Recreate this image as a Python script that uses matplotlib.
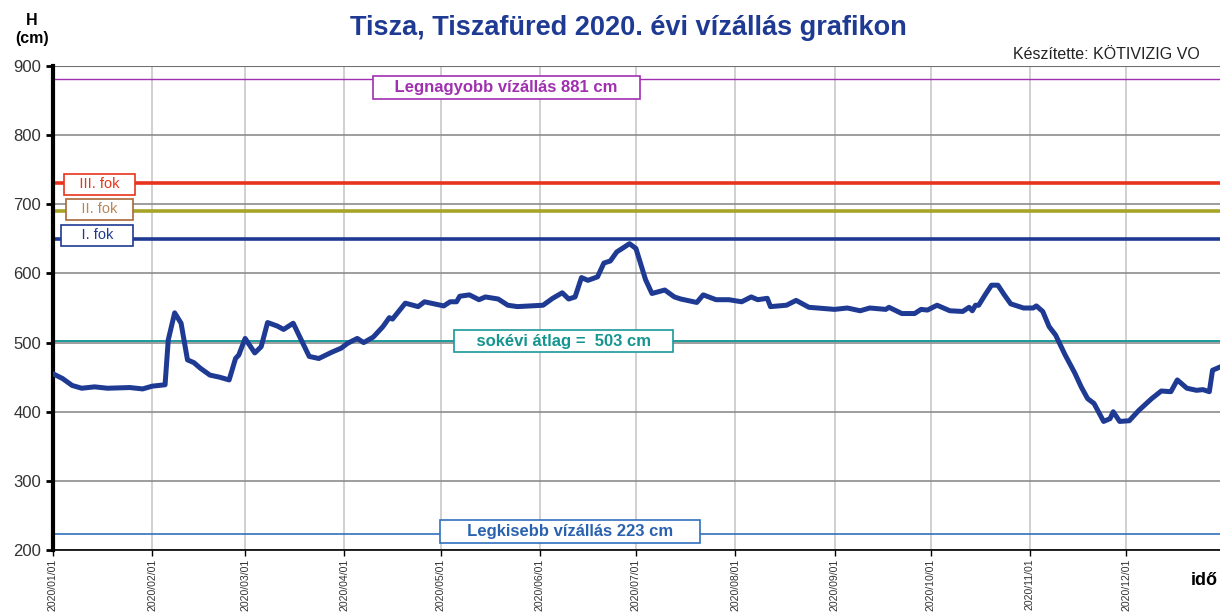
import datetime as dt
import matplotlib
matplotlib.use("Agg")
import matplotlib.pyplot as plt
import matplotlib.dates as mdates

plt.rcParams['font.family'] = ['Liberation Sans', 'DejaVu Sans']

# water level readings (date, cm)
dates = ["2020-01-01", "2020-01-04", "2020-01-07", "2020-01-10", "2020-01-14",
         "2020-01-18", "2020-01-25", "2020-01-29", "2020-02-01", "2020-02-05",
         "2020-02-06", "2020-02-08", "2020-02-10", "2020-02-12", "2020-02-14",
         "2020-02-16", "2020-02-19", "2020-02-22", "2020-02-25", "2020-02-27",
         "2020-02-28", "2020-03-01", "2020-03-04", "2020-03-06", "2020-03-08",
         "2020-03-11", "2020-03-13", "2020-03-16", "2020-03-19", "2020-03-21",
         "2020-03-24", "2020-03-28", "2020-03-31", "2020-04-02", "2020-04-05",
         "2020-04-07", "2020-04-10", "2020-04-13", "2020-04-15", "2020-04-16",
         "2020-04-20", "2020-04-24", "2020-04-26", "2020-05-02", "2020-05-04",
         "2020-05-06", "2020-05-07", "2020-05-10", "2020-05-13", "2020-05-15",
         "2020-05-19", "2020-05-22", "2020-05-25", "2020-05-29", "2020-06-02",
         "2020-06-05", "2020-06-08", "2020-06-10", "2020-06-12", "2020-06-14",
         "2020-06-16", "2020-06-19", "2020-06-21", "2020-06-23", "2020-06-25",
         "2020-06-29", "2020-07-01", "2020-07-04", "2020-07-06", "2020-07-10",
         "2020-07-13", "2020-07-15", "2020-07-20", "2020-07-22", "2020-07-26",
         "2020-07-30", "2020-08-03", "2020-08-06", "2020-08-08", "2020-08-11",
         "2020-08-12", "2020-08-17", "2020-08-20", "2020-08-24", "2020-09-01",
         "2020-09-05", "2020-09-09", "2020-09-12", "2020-09-17", "2020-09-18",
         "2020-09-22", "2020-09-26", "2020-09-28", "2020-09-30", "2020-10-03",
         "2020-10-07", "2020-10-11", "2020-10-13", "2020-10-14", "2020-10-15",
         "2020-10-16", "2020-10-18", "2020-10-20", "2020-10-22", "2020-10-24",
         "2020-10-26", "2020-10-30", "2020-11-02", "2020-11-03", "2020-11-05",
         "2020-11-07", "2020-11-09", "2020-11-12", "2020-11-15", "2020-11-17",
         "2020-11-19", "2020-11-21", "2020-11-24", "2020-11-26", "2020-11-27",
         "2020-11-29", "2020-12-02", "2020-12-05", "2020-12-09", "2020-12-12",
         "2020-12-15", "2020-12-17", "2020-12-20", "2020-12-23", "2020-12-25",
         "2020-12-27", "2020-12-28", "2020-12-30"]
level_cm = [455, 448, 438, 434, 436,
            434, 435, 433, 437, 439,
            504, 543, 528, 475, 471,
            463, 453, 450, 446, 477,
            482, 506, 485, 494, 529,
            524, 519, 528, 499, 480,
            477, 486, 492, 499, 506,
            500, 508, 523, 536, 534,
            557, 552, 559, 553, 559,
            559, 567, 569, 562, 566,
            563, 554, 552, 553, 554,
            564, 572, 563, 566, 594,
            590, 595, 615, 618, 631,
            643, 636, 591, 571, 576,
            566, 563, 558, 569, 562,
            562, 559, 566, 562, 564,
            552, 554, 561, 551, 548,
            550, 546, 550, 548, 551,
            542, 542, 548, 547, 554,
            546, 545, 551, 546, 554,
            554, 569, 583, 583, 569,
            556, 550, 550, 553, 545,
            523, 511, 482, 456, 436,
            419, 412, 386, 390, 400,
            386, 387, 402, 419, 430,
            429, 446, 434, 431, 432,
            429, 460, 464]

# reference levels
ref_values = [881, 730, 690, 650, 503, 223]
ref_labels = ["Legnagyobb vízállás 881 cm", "III. fok", "II. fok", "I. fok",
              "sokévi átlag =  503 cm", "Legkisebb vízállás 223 cm"]

x = [dt.datetime.strptime(d, "%Y-%m-%d") for d in dates]

fig = plt.figure(figsize=(12.2, 6.16), dpi=100)
ax = fig.add_axes([0.0434, 0.107, 0.9566, 0.786])

ax.set_ylim(200, 900)
ax.set_xlim(dt.datetime(2020, 1, 1), dt.datetime(2020, 12, 30, 8))

# grid
ax.set_yticks(range(200, 901, 100))
ax.yaxis.grid(True, color="#8c8c8c", lw=1.2)
ax.xaxis.set_major_locator(mdates.MonthLocator())
ax.xaxis.set_major_formatter(mdates.DateFormatter("%Y/%m/%d"))
ax.xaxis.grid(True, color="#c8c8c8", lw=1.2)
ax.set_axisbelow(True)

for s in ["top", "right"]:
    ax.spines[s].set_visible(False)
ax.spines["left"].set_linewidth(3)
ax.spines["bottom"].set_linewidth(1.2)
ax.tick_params(axis="y", labelsize=12, labelcolor="#333333", length=5, width=2)
ax.tick_params(axis="x", labelsize=7.6, labelcolor="#333333", length=4, width=1,
               rotation=90, pad=2)

# reference lines with boxed labels
styles = [
    dict(lc="#a030b0", lw=1.0, tc="#a030b0", ec="#a030b0", x=dt.datetime(2020, 5, 21, 12), y=869, fs=12, bold=True, pad=4),
    dict(lc="#e8341c", lw=2.6, tc="#e8341c", ec="#e8341c", x=dt.datetime(2020, 1, 15, 12), y=728.6, fs=10.5, bold=False, pad=3),
    dict(lc="#a8a428", lw=2.6, tc="#b8865a", ec="#a8683a", x=dt.datetime(2020, 1, 15, 12), y=692.5, fs=10.5, bold=False, pad=3),
    dict(lc="#1f3a93", lw=2.6, tc="#1f3a93", ec="#1f3a93", x=dt.datetime(2020, 1, 14, 18), y=655, fs=10.5, bold=False, pad=4),
    dict(lc="#1a9a9a", lw=1.4, tc="#15958f", ec="#1a9a9a", x=dt.datetime(2020, 6, 8, 12), y=502, fs=12, bold=True, pad=4),
    dict(lc="#3070c0", lw=1.2, tc="#2a62b0", ec="#3070c0", x=dt.datetime(2020, 6, 10, 12), y=227, fs=12, bold=True, pad=5),
]
for v, lab, st in zip(ref_values, ref_labels, styles):
    ax.axhline(v, color=st["lc"], lw=st["lw"], zorder=2)
    pad = " " * st["pad"]
    ax.text(st["x"], st["y"], pad + lab + pad, color=st["tc"], fontsize=st["fs"],
            fontweight="bold" if st["bold"] else "normal", ha="center", va="center",
            zorder=4,
            bbox=dict(boxstyle="square,pad=0.22", facecolor="white",
                      edgecolor=st["ec"], lw=1.2))

ax.axhline(900, color="#707070", lw=1.5, zorder=2)

ax.plot(x, level_cm, color="#1f3a93", lw=3.6, solid_joinstyle="round", zorder=3)

fig.text(0.515, 0.955, "Tisza, Tiszafüred 2020. évi vízállás grafikon",
         ha="center", va="center", fontsize=19.5, fontweight="bold", color="#1f3a93")
fig.text(0.026, 0.967, "H", ha="center", va="center", fontsize=11.5, fontweight="bold")
fig.text(0.026, 0.937, "(cm)", ha="center", va="center", fontsize=11.5, fontweight="bold")
fig.text(0.983, 0.911, "Készítette: KÖTIVIZIG VO", ha="right", va="center",
         fontsize=11.5, color="#222222")
fig.text(0.998, 0.058, "idő", ha="right", va="center", fontsize=13, fontweight="bold")

fig.savefig("out.png", dpi=100)
